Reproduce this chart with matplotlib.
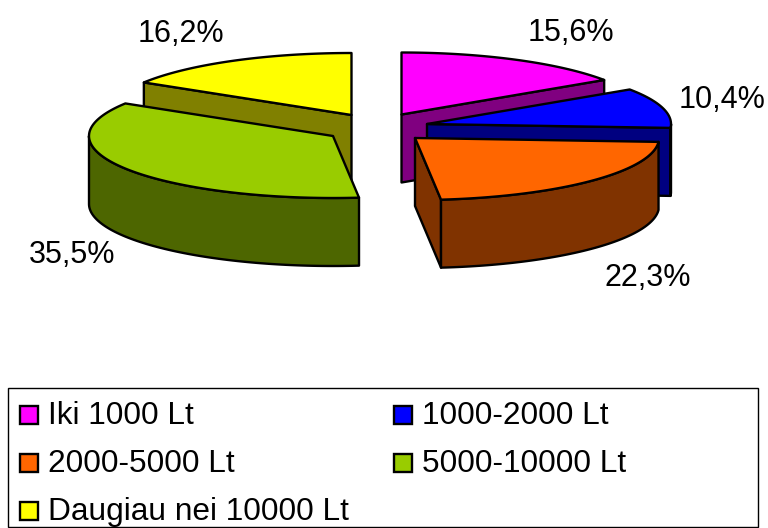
import numpy as np
import matplotlib
matplotlib.use("Agg")
import matplotlib.pyplot as plt
from matplotlib.patches import Polygon, Rectangle

categories = ["Iki 1000 Lt", "1000-2000 Lt", "2000-5000 Lt", "5000-10000 Lt", "Daugiau nei 10000 Lt"]
shares = [15.6, 10.4, 22.3, 35.5, 16.2]
top_colors = ["#FF00FF", "#0000FF", "#FF6600", "#99CC00", "#FFFF00"]
side_colors = ["#800080", "#000080", "#803300", "#4D6600", "#808000"]

# Exploded wedge apexes, in figure pixels
apex_x = [401.5, 427, 415, 333, 351.5]
apex_y = [114.5, 124, 138, 136, 115]
label_x = [571, 722.5, 648, 72, 181]
label_y = [33, 100, 278, 255, 34]

RX, RY, DEPTH = 244, 62, 68
LW = 1.7
FONT = "Liberation Sans"
LABEL_SIZE = 22
LEGEND_SIZE = 22.8

fig = plt.figure(figsize=(7.68, 5.28), dpi=100)
ax = fig.add_axes([0, 0, 1, 1])
ax.set_xlim(0, 768)
ax.set_ylim(528, 0)
ax.axis("off")


def rim(cx, cy, angles):
    # Angles run clockwise from twelve o'clock, in degrees
    rad = np.radians(angles)
    return np.column_stack([cx + RX * np.sin(rad), cy - RY * np.cos(rad)])


def face(points, color, z):
    ax.add_patch(Polygon(points, closed=True, facecolor=color, edgecolor="black",
                         linewidth=LW, joinstyle="round", zorder=z))


ends = np.cumsum(shares) * 3.6
starts = ends - np.array(shares) * 3.6
down = np.array([0, DEPTH])

# Back-to-front: left half first, then the right half from the far wedge forward
for order, i in enumerate([4, 3, 0, 1, 2]):
    cx, cy = apex_x[i], apex_y[i]
    a0, a1 = starts[i], ends[i]
    apex = np.array([cx, cy])
    z = 2 + order * 3

    for edge, visible in ((a0, np.sin(np.radians(a0)) < -1e-6),
                          (a1, np.sin(np.radians(a1)) > 1e-6)):
        if visible:
            p = rim(cx, cy, np.array([edge]))[0]
            face([apex, p, p + down, apex + down], side_colors[i], z)

    lo, hi = max(a0, 90), min(a1, 270)
    if hi > lo:
        arc = rim(cx, cy, np.linspace(lo, hi, 80))
        face(np.vstack([arc, arc[::-1] + down]), side_colors[i], z + 1)

    top = rim(cx, cy, np.linspace(a0, a1, 120))
    face(np.vstack([apex, top]), top_colors[i], z + 2)

    ax.text(label_x[i], label_y[i], f"{shares[i]:.1f}%".replace(".", ","),
            family=FONT, fontsize=LABEL_SIZE, ha="center", va="center", color="black", zorder=30)

# Legend frame with two columns of swatches
ax.add_patch(Rectangle((7.5, 387.5), 750, 139, facecolor="white", edgecolor="black", linewidth=1.0, zorder=1))
legend_x = [19.5, 393.5, 19.5, 393.5, 19.5]
legend_y = [405.5, 405.5, 453.5, 453.5, 501.5]
for i, name in enumerate(categories):
    ax.add_patch(Rectangle((legend_x[i], legend_y[i]), 18, 18, facecolor=top_colors[i],
                           edgecolor="black", linewidth=LW, zorder=2))
    ax.text(legend_x[i] + 28.5, legend_y[i] + 18.5, name, family=FONT, fontsize=LEGEND_SIZE,
            ha="left", va="baseline", color="black", zorder=3)

fig.savefig("out.png", dpi=100)
